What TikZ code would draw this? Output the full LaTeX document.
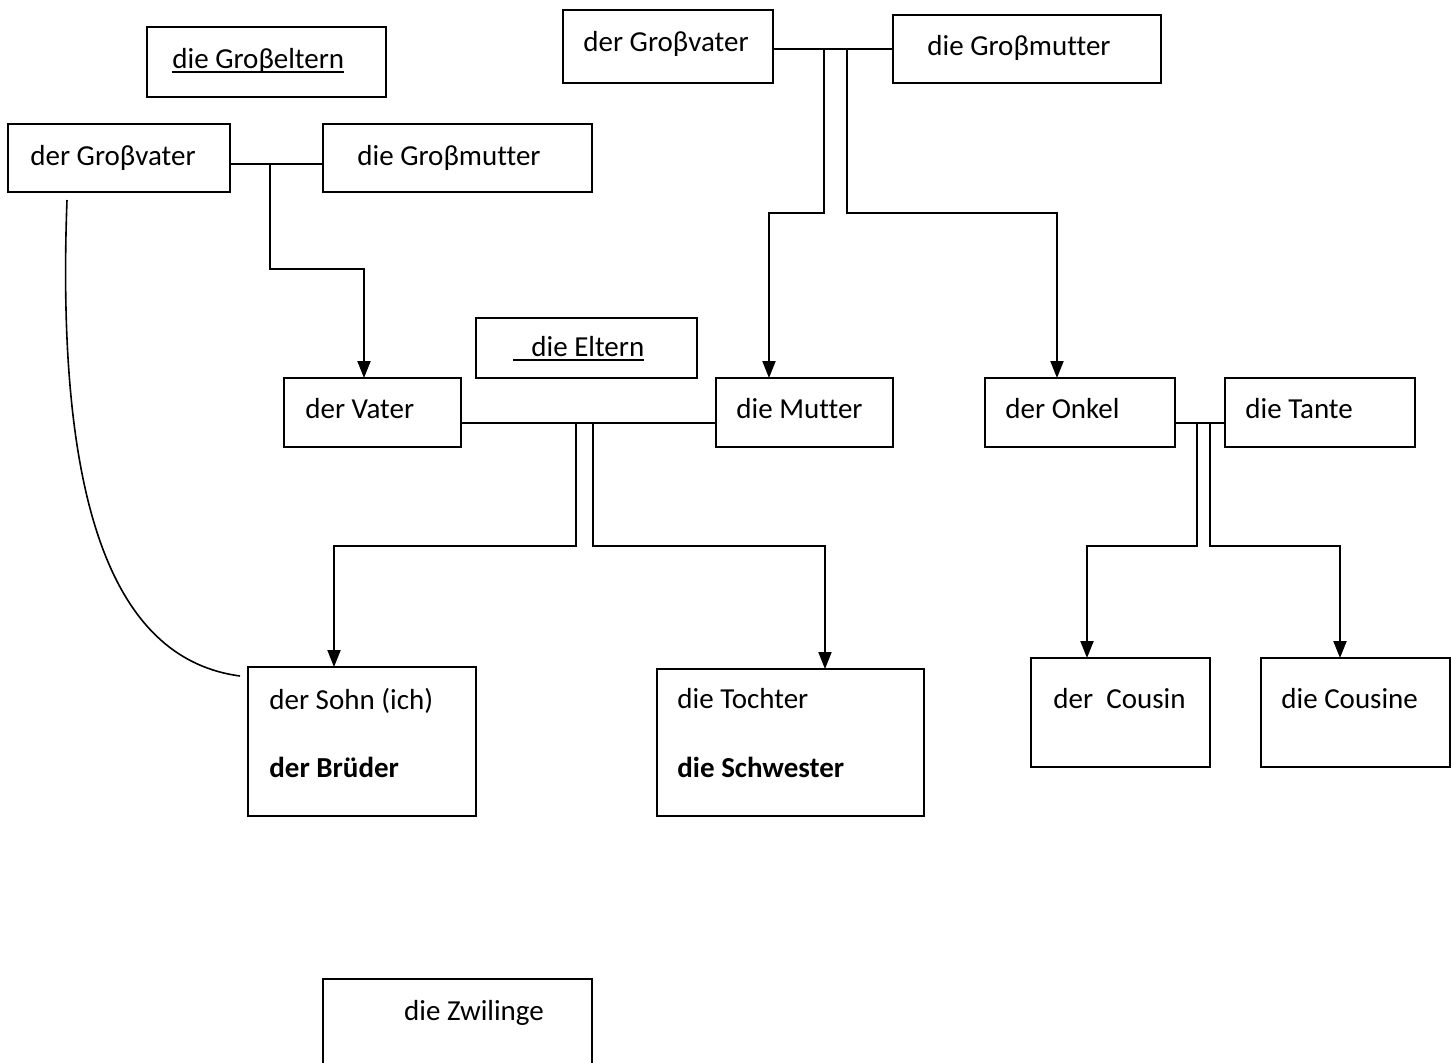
\documentclass[tikz,border=0pt]{standalone}
\usepackage{fontspec}
\setmainfont{Carlito}[Ligatures={NoCommon}]
\usetikzlibrary{fit,arrows.meta}
\newcommand{\bx}[5]{%
  \path (#2,#3) coordinate (#1-a) (#4,#5) coordinate (#1-b);
  \node[box, fit=(#1-a)(#1-b)] (#1) {};}
\newcommand{\myul}[1]{\setbox0\hbox{#1}\rlap{\rule[-2.6pt]{\wd0}{0.9pt}}\box0}
\begin{document}
\begin{tikzpicture}[x=0.5pt,y=-0.5pt,
  box/.style={draw, line width=1pt, inner sep=0pt, outer sep=0pt},
  txt/.style={anchor=base west, inner sep=0pt, font=\fontsize{14.5}{17}\selectfont},
  link/.style={line width=1pt},
  arr/.style={line width=1pt, -{Triangle[width=6.5pt,length=8.5pt]}}]
\useasboundingbox (0,0) rectangle (1451,1062);
% boxes
\bx{gel}{147}{27}{386}{97}
\bx{gvA}{8}{124}{230}{192}
\bx{gmA}{323}{124}{592}{192}
\bx{gvB}{563}{10}{773}{83}
\bx{gmB}{893}{15}{1161}{83}
\bx{eltern}{476}{318}{697}{378}
\bx{vater}{284}{378}{461}{447}
\bx{mutter}{716}{378}{893}{447}
\bx{onkel}{985}{378}{1175}{447}
\bx{tante}{1225}{378}{1415}{447}
\bx{sohn}{248}{667}{476}{816}
\bx{tochter}{657}{669}{924}{816}
\bx{cousin}{1031}{658}{1210}{767}
\bx{cousine}{1261}{658}{1450}{767}
\bx{zw}{323}{979}{592}{1080}
% texts
\node[txt] (tgel) at (172,68) {\myul{die Groβeltern}};
\node[txt] (tgvA) at (30,165) {der Groβvater};
\node[txt] (tgmA) at (357,165) {die Groβmutter};
\node[txt] (tgvB) at (583,51) {der Groβvater};
\node[txt] (tgmB) at (927,55) {die Groβmutter};
\node[txt] (tel) at (513,356) {\myul{\hspace*{9pt}die Eltern}};
\node[txt] (tva) at (305,418) {der Vater};
\node[txt] (tmu) at (736,418) {die Mutter};
\node[txt] (ton) at (1005,418) {der Onkel};
\node[txt] (tta) at (1245,418) {die Tante};
\node[txt] (tso) at (269,709) {der Sohn (ich)};
\node[txt] (tbr) at (269,777) {\bfseries der Brüder};
\node[txt] (tto) at (677,708) {die Tochter};
\node[txt] (tsw) at (677,777) {\bfseries die Schwester};
\node[txt] (tcn) at (1053,708) {der\ \ Cousin};
\node[txt] (tce) at (1281,708) {die Cousine};
\node[txt, anchor=base] (tzw) at (474,1020) {die Zwilinge};
% junction coordinates
\coordinate (jA) at (270,164);
\coordinate (kA) at (364,269);
\coordinate (jB1) at (824,50);
\coordinate (jB2) at (847,50);
\coordinate (kB) at (0,213);
\coordinate (jC1) at (576,423);
\coordinate (jC2) at (593,423);
\coordinate (kC) at (0,546);
\coordinate (jD1) at (1197,423);
\coordinate (jD2) at (1210,423);
% left grandparents
\draw[link] ([yshift=-3pt]gvA.east) -- ([yshift=-3pt]gmA.west);
\draw[arr] (jA) |- (kA) -- ([xshift=40pt]vater.north west);
% top grandparents
\draw[link] (gmB.west) -- (gmB.west -| gvB.east);
\draw[arr] (jB1) -- (jB1 |- kB) -| ([xshift=26.5pt]mutter.north west);
\draw[arr] (jB2) -- (jB2 |- kB) -| ([xshift=36pt]onkel.north west);
% parents
\draw[link] ([yshift=-5pt]vater.east) -- ([yshift=-5pt]mutter.west);
\draw[arr] (jC1) -- (jC1 |- kC) -| ([xshift=43pt]sohn.north west);
\draw[arr] (jC2) -- (jC2 |- kC) -| ([xshift=84pt]tochter.north west);
% uncle & aunt
\draw[link] ([yshift=-5pt]onkel.east) -- ([yshift=-5pt]tante.west);
\draw[arr] (jD1) -- (jD1 |- kC) -| ([xshift=28pt]cousin.north west);
\draw[arr] (jD2) -- (jD2 |- kC) -| ([xshift=39.5pt]cousine.north west);
% curve
\draw[line width=0.8pt] ([xshift=29.5pt,yshift=-4pt]gvA.south west)
  .. controls (55,520) and (120,660) .. ([xshift=-4pt,yshift=-4.5pt]sohn.north west);
\end{tikzpicture}
\end{document}
